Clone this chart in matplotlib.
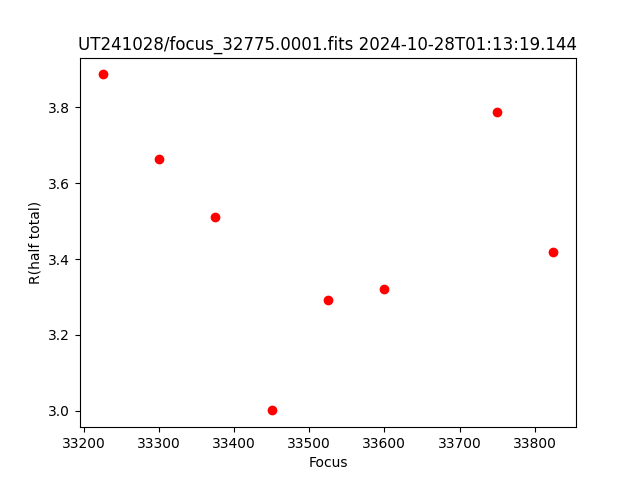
import matplotlib
matplotlib.use("Agg")
import matplotlib.pyplot as plt

# Focus positions and half-total radius values
focus = [33225, 33300, 33375, 33450, 33525, 33600, 33750, 33825]
r_half = [3.887, 3.665, 3.512, 3.001, 3.291, 3.320, 3.787, 3.418]

title = "UT241028/focus_32775.0001.fits 2024-10-28T01:13:19.144"

fig, ax = plt.subplots(figsize=(6.4, 4.8), dpi=100)
ax.plot(focus, r_half, "ro")
ax.set_xlabel("Focus")
ax.set_ylabel("R(half total)")
ax.set_title(title)

fig.savefig("out.png", dpi=100)
